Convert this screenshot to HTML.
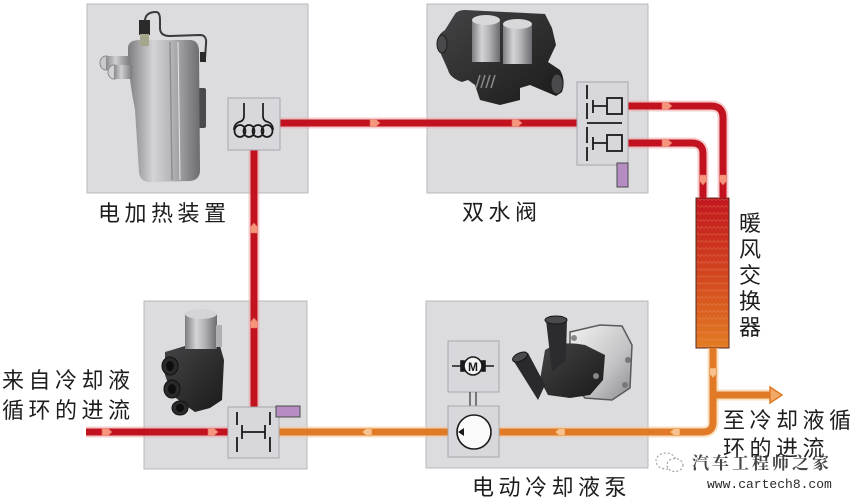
<!DOCTYPE html>
<html><head><meta charset="utf-8">
<style>
html,body{margin:0;padding:0;background:#fff;}
body{width:852px;height:499px;overflow:hidden;}
svg{display:block;}
.lbl{font-family:"Liberation Sans","Noto Sans CJK SC",sans-serif;font-size:22px;fill:#1e1e1e;letter-spacing:4.5px;}
</style></head>
<body>
<svg width="852" height="499" viewBox="0 0 852 499" xmlns="http://www.w3.org/2000/svg">
<defs>
  <linearGradient id="hx" x1="0" y1="0" x2="0" y2="1">
    <stop offset="0" stop-color="#c2161f"/>
    <stop offset="0.5" stop-color="#d2441f"/>
    <stop offset="1" stop-color="#e27c22"/>
  </linearGradient>
  <pattern id="wave" width="8" height="7" patternUnits="userSpaceOnUse">
    <path d="M0 4.5 L2 2.5 L4 4.5 L6 2.5 L8 4.5" fill="none" stroke="#f4a070" stroke-opacity="0.3" stroke-width="0.8"/>
  </pattern>
  <linearGradient id="silver" x1="0" y1="0" x2="1" y2="0">
    <stop offset="0" stop-color="#7d7d80"/>
    <stop offset="0.35" stop-color="#d4d4d6"/>
    <stop offset="0.6" stop-color="#b5b5b8"/>
    <stop offset="1" stop-color="#6c6c70"/>
  </linearGradient>
  <linearGradient id="silver2" x1="0" y1="0" x2="1" y2="0">
    <stop offset="0" stop-color="#8a8a8c"/>
    <stop offset="0.4" stop-color="#cfcfd1"/>
    <stop offset="1" stop-color="#7a7a7d"/>
  </linearGradient>
  <linearGradient id="housing" x1="0" y1="0" x2="1" y2="1">
    <stop offset="0" stop-color="#f2f2f2"/>
    <stop offset="0.6" stop-color="#c4c4c6"/>
    <stop offset="1" stop-color="#8c8c8e"/>
  </linearGradient>
  <linearGradient id="dark" x1="0" y1="0" x2="1" y2="1">
    <stop offset="0" stop-color="#444446"/>
    <stop offset="1" stop-color="#1a1a1a"/>
  </linearGradient>
</defs>

<!-- component boxes -->
<rect x="87" y="4" width="221" height="189" fill="#dcdcdf" stroke="#b9b9bd"/>
<rect x="427" y="4" width="221" height="189" fill="#dcdcdf" stroke="#b9b9bd"/>
<rect x="144" y="301" width="163" height="168" fill="#dcdcdf" stroke="#b9b9bd"/>
<rect x="426" y="301" width="222" height="167" fill="#dcdcdf" stroke="#b9b9bd"/>

<!-- heater photo -->
<g>
  <path d="M145 20 Q146 12 156 12 Q160 12 160 20 L160 28 Q160 36 170 36 L200 35 Q207 35 206 44 L205 58" fill="none" stroke="#3a3a3c" stroke-width="2"/>
  <rect x="195" y="88" width="11" height="40" rx="2" fill="#4a4a4c"/>
  <rect x="200" y="52" width="6" height="10" fill="#2a2a2a"/>
  <path d="M128 48 Q128 40 140 40 L190 40 Q198 40 199 50 L200 170 Q200 180 190 181 L150 182 Q140 182 139 172 L135 110 Q130 85 128 60 Z" fill="url(#silver)"/>
  <path d="M170 42 L172 180" stroke="#8e8e92" stroke-width="1.5"/>
  <path d="M178 42 L180 180" stroke="#e6e6e8" stroke-width="1"/>
  <ellipse cx="106" cy="63" rx="6" ry="7" fill="#c9c9cc" stroke="#8a8a8d"/>
  <rect x="106" y="56" width="24" height="14" fill="url(#silver2)"/>
  <ellipse cx="114" cy="72" rx="6" ry="7" fill="#d2d2d4" stroke="#8a8a8d"/>
  <rect x="114" y="65" width="18" height="14" fill="url(#silver2)"/>
  <rect x="139" y="20" width="11" height="15" fill="#2b2b2b"/>
  <rect x="140" y="34" width="9" height="12" fill="#a6a68a"/>
</g>

<!-- double valve photo -->
<g>
  <path d="M440 40 Q436 36 445 30 L455 14 Q458 10 465 10 L545 14 L552 28 L556 45 L548 62 L560 70 Q566 80 562 92 L556 96 L530 85 L520 88 L520 100 L500 105 L480 100 L475 85 L468 80 L462 82 Q450 78 448 70 L440 52 Z" fill="url(#dark)"/>
  <ellipse cx="557" cy="84" rx="6" ry="10" fill="#4a4a4c" stroke="#202020"/>
  <ellipse cx="442" cy="44" rx="5" ry="9" fill="#4a4a4c" stroke="#202020"/>
  <rect x="472" y="20" width="28" height="42" fill="url(#silver)"/>
  <ellipse cx="486" cy="20" rx="14" ry="5" fill="#d8d8da"/>
  <rect x="503" y="24" width="29" height="40" fill="url(#silver)"/>
  <ellipse cx="517.5" cy="24" rx="14.5" ry="5" fill="#d8d8da"/>
  <path d="M480 75 L476 88 M485 75 L481 88 M490 75 L486 88 M495 75 L491 88" stroke="#8a8a8a" stroke-width="1.5"/>
</g>

<!-- bottom-left valve photo -->
<g>
  <path d="M165 352 L185 346 L220 346 L224 360 L222 400 L210 408 L195 412 L185 405 L172 395 L165 375 Z" fill="url(#dark)"/>
  <rect x="185" y="314" width="32" height="35" fill="url(#silver)"/>
  <ellipse cx="201" cy="314" rx="16" ry="5" fill="#d4d4d6"/>
  <rect x="216" y="325" width="6" height="22" fill="#b0b0b2"/>
  <ellipse cx="170" cy="366" rx="8" ry="9" fill="#2a2a2a" stroke="#111"/>
  <ellipse cx="170" cy="366" rx="4" ry="5" fill="#0e0e0e"/>
  <ellipse cx="172" cy="389" rx="8" ry="9" fill="#2a2a2a" stroke="#111"/>
  <ellipse cx="172" cy="389" rx="4" ry="5" fill="#0e0e0e"/>
  <ellipse cx="180" cy="408" rx="8" ry="7" fill="#2a2a2a" stroke="#111"/>
  <ellipse cx="180" cy="408" rx="4" ry="4" fill="#0e0e0e"/>
</g>

<!-- pump photo -->
<g>
  <path d="M570 332 L600 325 L622 326 L632 345 L630 388 L612 400 L585 398 L570 380 Z" fill="url(#housing)" stroke="#5a5a5c" stroke-width="1.5"/>
  <circle cx="628" cy="360" r="3" fill="#777"/>
  <circle cx="625" cy="385" r="3" fill="#777"/>
  <path d="M545 350 Q560 340 585 345 L605 355 L603 380 L590 395 L570 398 L548 395 L540 380 Z" fill="url(#dark)"/>
  <path d="M546 320 L567 318 L566 360 L552 372 Z" fill="#2c2c2e"/>
  <ellipse cx="556" cy="320" rx="11" ry="4" fill="#4a4a4c" stroke="#151515"/>
  <path d="M513 360 L528 353 L545 385 L538 400 Z" fill="#2a2a2c"/>
  <ellipse cx="520" cy="357" rx="8" ry="4" transform="rotate(-25 520 357)" fill="#4a4a4c" stroke="#151515"/>
  <circle cx="574" cy="338" r="3" fill="#888"/>
  <circle cx="596" cy="376" r="3" fill="#888"/>
</g>

<!-- heat exchanger -->
<rect x="696" y="198" width="33" height="150" fill="url(#hx)" stroke="#5a2820" stroke-width="1"/>
<rect x="697" y="199" width="31" height="148" fill="url(#wave)"/>

<!-- pipes: glow -->
<g fill="none" stroke-linecap="butt" stroke-linejoin="round">
  <g stroke="#eea2a2" stroke-opacity="0.55" stroke-width="11">
    <path d="M280 123 H577"/>
    <path d="M254 150 V407"/>
    <path d="M86 432 H228"/>
    <path d="M628 106 H711 Q723 106 723 118 V198"/>
    <path d="M628 143 H692 Q703 143 703 154 V198"/>
  </g>
  <g stroke="#f6c896" stroke-opacity="0.6" stroke-width="11">
    <path d="M279 432 H448"/>
    <path d="M499 432 H703 Q713 432 713 422 V348"/>
    <path d="M713 395 H772"/>
  </g>
  <g stroke="#c3121f" stroke-width="7">
    <path d="M280 123 H577"/>
    <path d="M254 150 V407"/>
    <path d="M86 432 H228"/>
    <path d="M628 106 H711 Q723 106 723 118 V198"/>
    <path d="M628 143 H692 Q703 143 703 154 V198"/>
  </g>
  <g stroke="#e07a26" stroke-width="7">
    <path d="M279 432 H448"/>
    <path d="M499 432 H703 Q713 432 713 422 V348"/>
    <path d="M713 395 H772"/>
  </g>
</g>

<!-- flow arrows -->
<g fill="#f4957c" stroke="#e06a5a" stroke-width="0.6">
  <polygon points="370,119.5 376,119.5 380,123 376,126.5 370,126.5"/>
  <polygon points="512,119.5 518,119.5 522,123 518,126.5 512,126.5"/>
  <polygon points="662,102.5 668,102.5 672,106 668,109.5 662,109.5"/>
  <polygon points="662,139.5 668,139.5 672,143 668,146.5 662,146.5"/>
  <polygon points="699.5,175 706.5,175 706.5,181 703,185 699.5,181"/>
  <polygon points="719.5,175 726.5,175 726.5,181 723,185 719.5,181"/>
  <polygon points="250.5,233 257.5,233 257.5,227 254,223 250.5,227"/>
  <polygon points="250.5,328 257.5,328 257.5,322 254,318 250.5,322"/>
  <polygon points="102,428.5 108,428.5 112,432 108,435.5 102,435.5"/>
  <polygon points="208,428.5 214,428.5 218,432 214,435.5 208,435.5"/>
</g>
<g fill="#f7c28e" stroke="#e0852e" stroke-width="0.6">
  <polygon points="372,428.5 366,428.5 362,432 366,435.5 372,435.5"/>
  <polygon points="565,428.5 559,428.5 555,432 559,435.5 565,435.5"/>
  <polygon points="680,428.5 674,428.5 670,432 674,435.5 680,435.5"/>
  <polygon points="709.5,368 716.5,368 716.5,374 713,378 709.5,374"/>
</g>
<polygon points="770,387 782,395 770,403" fill="#f2a866" stroke="#e07a26" stroke-width="1.5"/>

<!-- heater symbol -->
<rect x="228" y="98" width="52" height="52" fill="#d8d8dc" stroke="#a6a6ae"/>
<g fill="none" stroke="#1a1a1a" stroke-width="1.7">
  <path d="M244 103 V116 Q244 121 239 122 Q234 124 234 130"/>
  <path d="M263 103 V116 Q263 121 268 122 Q273 124 273 130"/>
  <ellipse cx="240" cy="131" rx="5.5" ry="6"/>
  <ellipse cx="249" cy="131" rx="5.5" ry="6"/>
  <ellipse cx="258" cy="131" rx="5.5" ry="6"/>
  <ellipse cx="267" cy="131" rx="5.5" ry="6"/>
</g>

<!-- double valve symbol -->
<rect x="577" y="82" width="51" height="83" fill="#d8d8dc" stroke="#a6a6ae"/>
<g stroke="#1a1a1a" stroke-width="1.8" fill="none">
  <path d="M587 85 V99 M587 103 V119 M587 127 V143 M587 147 V161"/>
  <path d="M593 100 V113 M593 106 H607"/>
  <rect x="607" y="98" width="15" height="16"/>
  <path d="M587 123 H622"/>
  <path d="M593 137 V150 M593 143 H607"/>
  <rect x="607" y="135" width="15" height="16"/>
</g>
<rect x="617" y="163" width="11" height="24" fill="#b58dc2" stroke="#4a4a4a"/>

<!-- bottom-left valve symbol -->
<rect x="228" y="407" width="51" height="51" fill="#d8d8dc" stroke="#a6a6ae"/>
<g stroke="#1a1a1a" stroke-width="1.8" fill="none">
  <path d="M237 412 V425 M237 437 V452"/>
  <path d="M270 412 V425 M270 437 V452"/>
  <path d="M242 425 V439 M265 425 V439 M242 432 H265"/>
</g>
<rect x="276" y="406" width="24" height="11" fill="#b58dc2" stroke="#4a4a4a"/>

<!-- motor + pump symbol -->
<rect x="448" y="341" width="51" height="51" fill="#d8d8dc" stroke="#a6a6ae"/>
<g stroke="#1a1a1a" stroke-width="1.6" fill="none">
  <path d="M452 366 H462 M484 366 H494"/>
  <rect x="461" y="361" width="3" height="10" fill="#1a1a1a"/>
  <rect x="482" y="361" width="3" height="10" fill="#1a1a1a"/>
  <circle cx="473" cy="366" r="9" fill="#f4f4f4"/>
</g>
<text x="473" y="371" text-anchor="middle" font-family="Liberation Sans, sans-serif" font-size="12" font-weight="bold" fill="#1a1a1a">M</text>
<path d="M470 392 V406 M476 392 V406" stroke="#555" stroke-width="1.5"/>
<rect x="448" y="406" width="51" height="51" fill="#d8d8dc" stroke="#a6a6ae"/>
<circle cx="474" cy="432" r="17" fill="#fafafa" stroke="#1a1a1a" stroke-width="1.6"/>
<polygon points="458,432 464,428 464,436" fill="#1a1a1a"/>

<!-- labels -->
<text class="lbl" x="98" y="221">电加热装置</text>
<text class="lbl" x="462" y="220">双水阀</text>
<text class="lbl" x="2" y="388">来自冷却液</text>
<text class="lbl" x="2" y="418">循环的进流</text>
<text class="lbl" x="472" y="495">电动冷却液泵</text>
<text class="lbl" x="723" y="428">至冷却液循</text>
<text class="lbl" x="723" y="456">环的进流</text>
<g class="lbl" style="letter-spacing:0">
  <text x="739" y="231">暖</text>
  <text x="739" y="257">风</text>
  <text x="739" y="283">交</text>
  <text x="739" y="309">换</text>
  <text x="739" y="335">器</text>
</g>

<!-- watermark -->
<g opacity="0.9">
  <ellipse cx="666" cy="461" rx="10" ry="8" fill="none" stroke="#9a9a9a" stroke-width="1.2" stroke-dasharray="2 2"/>
  <ellipse cx="675" cy="465" rx="8" ry="6.5" fill="#fff" stroke="#9a9a9a" stroke-width="1.2" stroke-dasharray="2 2"/>
  <text x="692" y="469" font-family="Liberation Serif, Noto Serif CJK SC, serif" font-size="17" font-weight="bold" fill="#333" letter-spacing="3">汽车工程师之家</text>
</g>
<text x="707" y="488" font-family="Liberation Mono, monospace" font-size="13" fill="#2a2a2a">www.cartech8.com</text>
</svg>
</body></html>
